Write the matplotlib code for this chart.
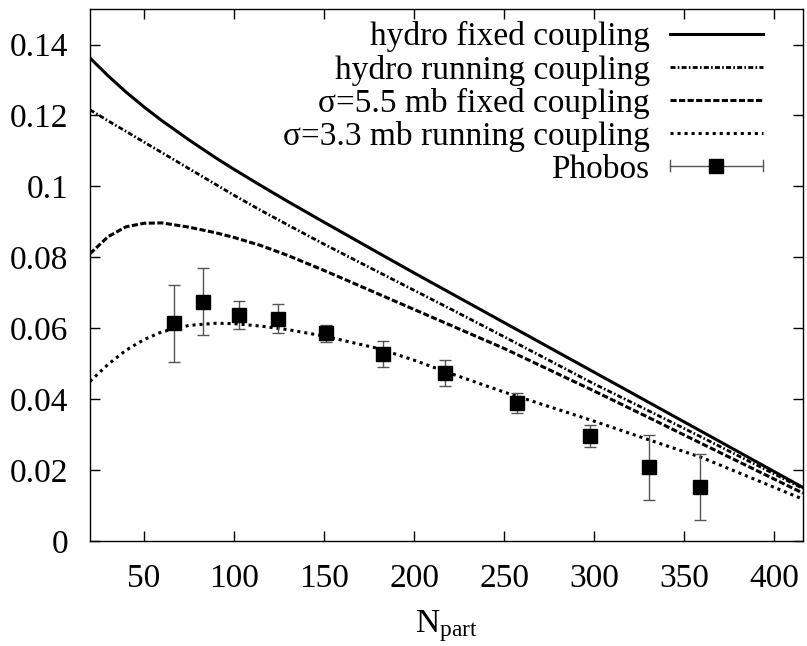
import numpy as np
import matplotlib
matplotlib.use("Agg")
import matplotlib.pyplot as plt
from matplotlib.legend_handler import HandlerBase
from matplotlib.lines import Line2D

plt.rcParams['font.family'] = ['Liberation Serif', 'DejaVu Serif']
plt.rcParams['mathtext.fontset'] = 'custom'
plt.rcParams['mathtext.rm'] = 'Liberation Serif'
plt.rcParams['mathtext.it'] = 'Liberation Serif:italic'

# ---- data ----
npart = [20, 30, 40, 50, 60, 75, 90, 100, 115, 130, 150, 180, 200, 220, 250, 300, 330, 360, 416]
hydro_fixed = [0.1362, 0.1312, 0.1266, 0.1224, 0.1185, 0.1131, 0.1080, 0.1048, 0.1002, 0.0957,
               0.0899, 0.0813, 0.0756, 0.0700, 0.0616, 0.0476, 0.0392, 0.0308, 0.0151]
hydro_running = [0.1216, 0.1185, 0.1155, 0.1125, 0.1095, 0.1050, 0.1005, 0.0975, 0.0932, 0.0891,
                 0.0837, 0.0759, 0.0707, 0.0655, 0.0576, 0.0443, 0.0368, 0.0292, 0.0148]
sigma55_fixed = [0.0810, 0.0858, 0.0886, 0.0896, 0.0897, 0.0885, 0.0869, 0.0856, 0.0833, 0.0805,
                 0.0763, 0.0697, 0.0653, 0.0609, 0.0543, 0.0423, 0.0349, 0.0274, 0.0135]
sigma33_running = [0.0450, 0.0498, 0.0538, 0.0568, 0.0590, 0.0608, 0.0614, 0.0613, 0.0606, 0.0596,
                   0.0578, 0.0543, 0.0510, 0.0473, 0.0420, 0.0338, 0.0286, 0.0235, 0.0118]

phobos_x = [66.7, 82.8, 102.7, 124.4, 151.2, 182.9, 217.1, 257.3, 297.6, 330.6, 358.7]
phobos_y = [0.0614, 0.0675, 0.0638, 0.0627, 0.0586, 0.0528, 0.0473, 0.0389, 0.0296, 0.0208, 0.0152]
phobos_err = [0.0108, 0.0094, 0.0040, 0.0040, 0.0024, 0.0036, 0.0037, 0.0029, 0.0030, 0.0092, 0.0092]

labels = ["hydro fixed coupling", "hydro running coupling",
          "σ=5.5 mb fixed coupling", "σ=3.3 mb running coupling", "Phobos"]
xticks = [50, 100, 150, 200, 250, 300, 350, 400]
yticks = [0, 0.02, 0.04, 0.06, 0.08, 0.1, 0.12, 0.14]
ytick_labels = ["0", "0.02", "0.04", "0.06", "0.08", "0.1", "0.12", "0.14"]

FS = 24

fig = plt.figure(figsize=(8.07, 6.46), dpi=100)
ax = fig.add_axes([0.1115, 0.1625, 0.995 - 0.1115, 0.986 - 0.1625])

l1, = ax.plot(npart, hydro_fixed, color='black', lw=2.2, ls='-')
l2, = ax.plot(npart, hydro_running, color='black', lw=2.0, ls=(0, (1.8, 0.8, 0.6, 0.8)))
l3, = ax.plot(npart, sigma55_fixed, color='black', lw=2.2, ls=(0, (2.0, 0.8)))
l4, = ax.plot(npart, sigma33_running, color='black', lw=2.2, ls=(0, (1.0, 1.3)))
eb = ax.errorbar(phobos_x, phobos_y, yerr=phobos_err, fmt='s', color='black',
                 markersize=9.5, ecolor='#555555', elinewidth=1.0, capsize=4, capthick=1.0,
                 zorder=5)


class HandlerPhobos(HandlerBase):
    def create_artists(self, legend, orig_handle, xdescent, ydescent, width, height,
                       fontsize, trans):
        y = height / 2.0 - ydescent
        x0 = -xdescent
        x1 = -xdescent + width
        cap = 4.0
        arts = [
            Line2D([x0, x1], [y, y], color='#555555', lw=1.0),
            Line2D([x0, x0], [y - cap, y + cap], color='#555555', lw=1.0),
            Line2D([x1, x1], [y - cap, y + cap], color='#555555', lw=1.0),
            Line2D([(x0 + x1) / 2.0], [y], marker='s', color='black', markersize=9.5, ls='none'),
        ]
        for a in arts:
            a.set_transform(trans)
        return arts


leg = ax.legend([l1, l2, l3, l4, eb], labels, loc='upper right',
                bbox_to_anchor=(0.944, 0.977), frameon=False, fontsize=FS,
                markerfirst=False, handlelength=2.8, handletextpad=0.6,
                labelspacing=0.065, borderpad=0, borderaxespad=0,
                handler_map={type(eb): HandlerPhobos()})

ax.set_xlim(20, 416)
ax.set_ylim(0, 0.15)
ax.set_xticks(xticks)
ax.set_xticklabels([str(v) for v in xticks])
ax.set_yticks(yticks)
ax.set_yticklabels(ytick_labels)
ax.tick_params(direction='in', length=7, width=1, labelsize=FS, top=True, right=True)
ax.tick_params(axis='y', pad=15.5)
ax.tick_params(axis='x', pad=16)
for s in ax.spines.values():
    s.set_linewidth(1.0)

ax.set_xlabel(r'N$_{\rm part}$', fontsize=FS, labelpad=10)

fig.savefig('out.png', dpi=100)
